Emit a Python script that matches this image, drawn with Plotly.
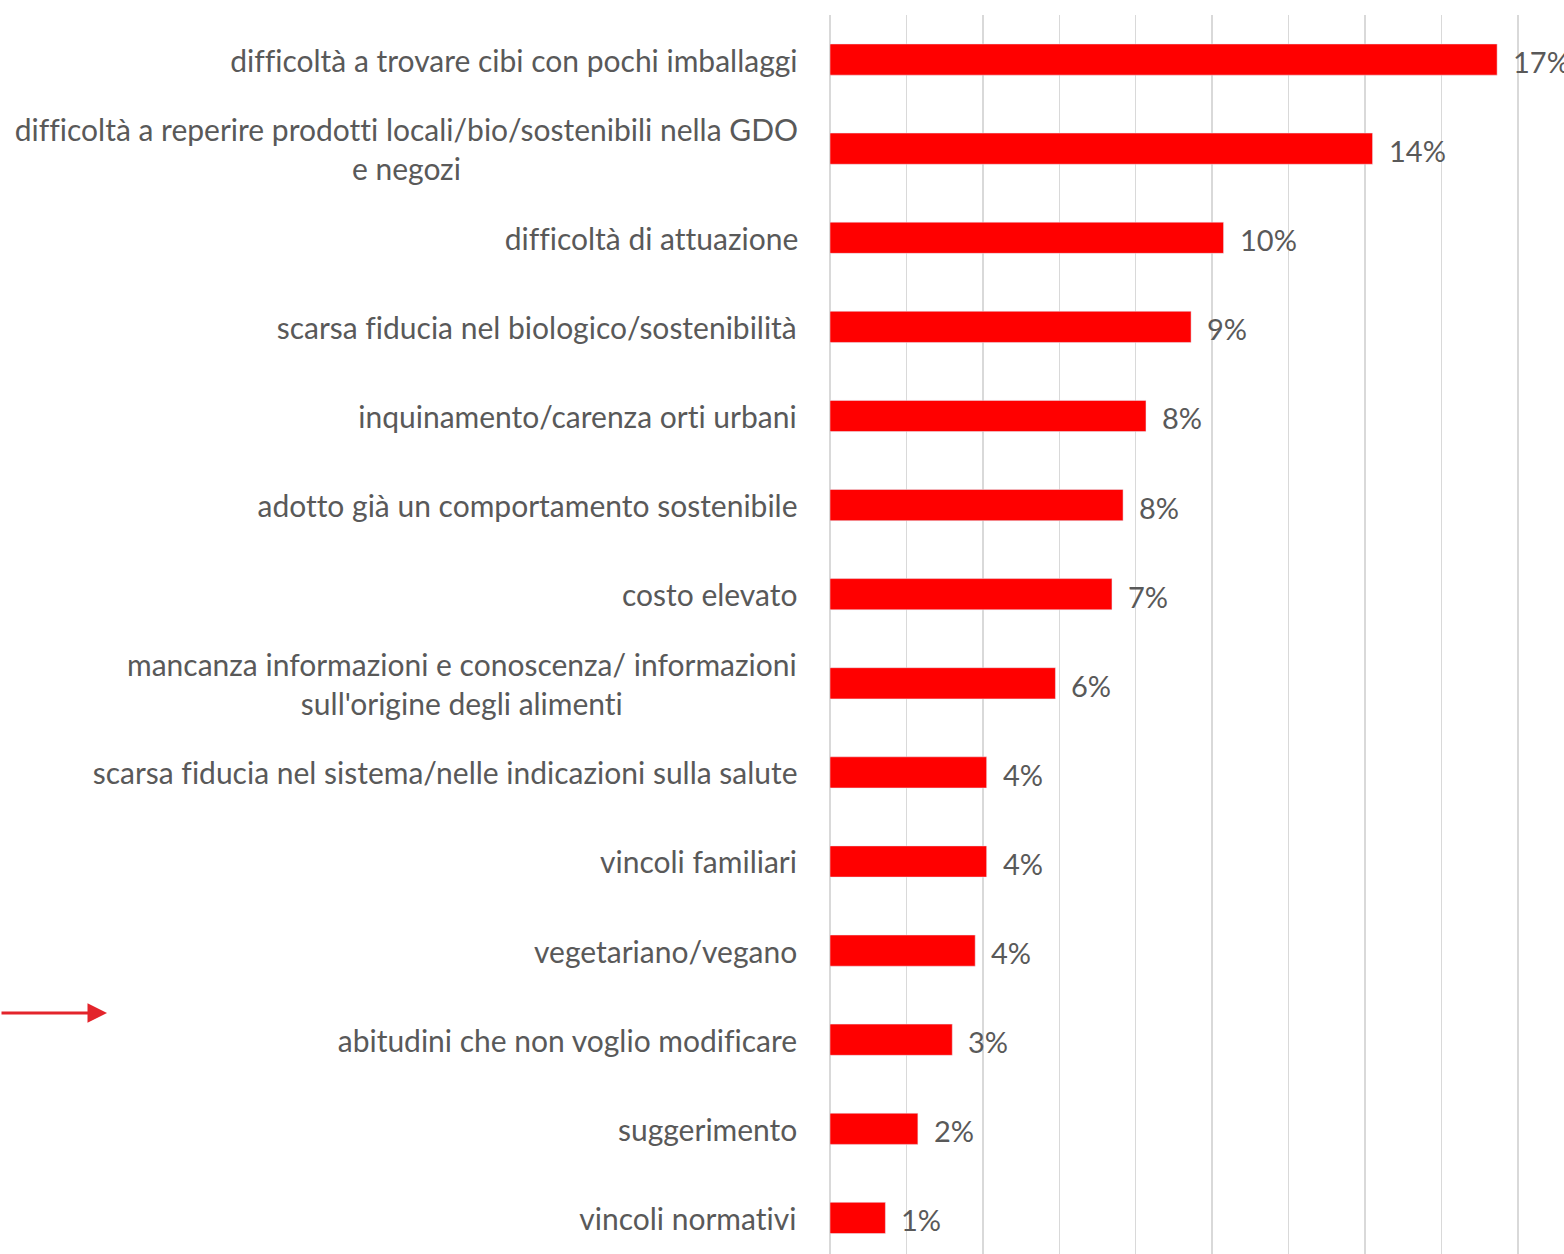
import plotly.graph_objects as go

categories = [
    "difficoltà a trovare cibi con pochi imballaggi",
    "difficoltà a reperire prodotti locali/bio/sostenibili nella GDO<br>e negozi",
    "difficoltà di attuazione",
    "scarsa fiducia nel biologico/sostenibilità",
    "inquinamento/carenza orti urbani",
    "adotto già un comportamento sostenibile",
    "costo elevato",
    "mancanza informazioni e conoscenza/ informazioni<br>sull'origine degli alimenti",
    "scarsa fiducia nel sistema/nelle indicazioni sulla salute",
    "vincoli familiari",
    "vegetariano/vegano",
    "abitudini che non voglio modificare",
    "suggerimento",
    "vincoli normativi",
]
values = [17.46, 14.2, 10.3, 9.45, 8.27, 7.67, 7.38, 5.9, 4.1, 4.1, 3.8, 3.2, 2.3, 1.45]
value_labels = ["17%", "14%", "10%", "9%", "8%", "8%", "7%", "6%", "4%", "4%", "4%", "3%", "2%", "1%"]

FONT = "Lato"
GREY = "#595959"

fig = go.Figure()

fig.add_trace(go.Bar(
    x=values,
    y=categories,
    orientation="h",
    marker=dict(color="#ff0000"),
    hoverinfo="skip",
))

annotations = []
for cat, val, lab in zip(categories, values, value_labels):
    annotations.append(dict(
        x=0, y=cat, xref="x", yref="y", text=cat,
        xanchor="right", yanchor="middle", align="center",
        xshift=-31, showarrow=False,
        font=dict(family=FONT, size=30, color=GREY),
    ))
    annotations.append(dict(
        x=val, y=cat, xref="x", yref="y", text=lab,
        xanchor="left", yanchor="middle", xshift=14, yshift=-2,
        showarrow=False,
        font=dict(family=FONT, size=29, color=GREY),
    ))

# red arrow in the left margin
annotations.append(dict(
    x=-0.985, y=0.1945, xref="paper", yref="paper",
    ax=-107, ay=0, text="", showarrow=True,
    arrowhead=2, arrowsize=1.3, arrowwidth=3, arrowcolor="#e3242b",
))

fig.update_layout(
    width=1564,
    height=1254,
    margin=dict(l=830, r=0, t=15, b=0),
    plot_bgcolor="white",
    paper_bgcolor="white",
    bargap=0.65,
    showlegend=False,
    annotations=annotations,
    xaxis=dict(
        range=[0, 19.21],
        dtick=2,
        showgrid=True,
        gridcolor="#d9d9d9",
        gridwidth=1.5,
        showticklabels=False,
        zeroline=True,
        zerolinecolor="#d9d9d9",
        zerolinewidth=1.5,
        fixedrange=True,
    ),
    yaxis=dict(
        categoryorder="array",
        categoryarray=categories,
        range=[13.405, -0.5],
        showticklabels=False,
        showgrid=False,
        zeroline=False,
        fixedrange=True,
    ),
)

# no page margin, no "fi" ligatures (the original font has none)
page_js = (
    "document.body.style.margin='0';"
    "document.body.style.overflow='hidden';"
    "var s=document.createElement('style');"
    "s.textContent='text, tspan{font-variant-ligatures:none !important;"
    "font-feature-settings:\"liga\" 0, \"clig\" 0 !important;}';"
    "document.head.appendChild(s);"
)

fig.write_html(
    "out.html",
    post_script=page_js,
    config={"displayModeBar": False, "staticPlot": True},
)
